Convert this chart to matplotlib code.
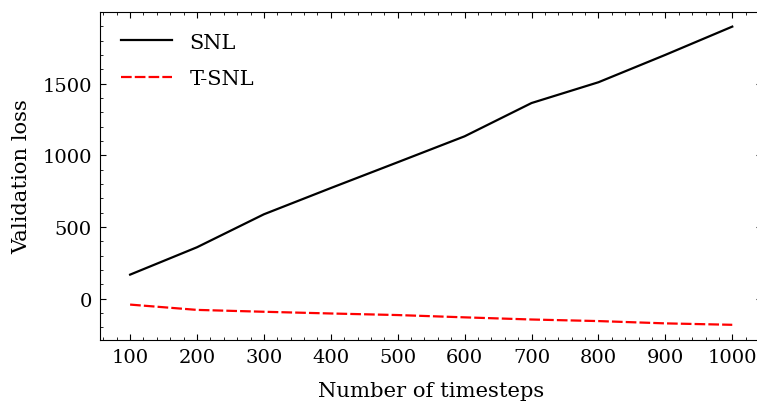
#-------------------------------------------------------------------------------
# Validation loss vs number of timesteps (SNL vs T-SNL)
#-------------------------------------------------------------------------------
import matplotlib
matplotlib.use("Agg")
import matplotlib.pyplot as plt
from matplotlib.ticker import AutoMinorLocator

#-------------------------------------------------------------------------------
# Data
#-------------------------------------------------------------------------------
timesteps = [100, 200, 300, 400, 500, 600, 700, 800, 900, 1000]
snl_loss = [167, 358, 588, 771, 951, 1132, 1364, 1509, 1700, 1897]
tsnl_loss = [-42, -79, -92, -104, -115, -131, -146, -157, -173, -183]

#-------------------------------------------------------------------------------
# Style
#-------------------------------------------------------------------------------
plt.rcParams['font.family'] = ['DejaVu Serif']
plt.rcParams['font.size'] = 14
plt.rcParams['xtick.direction'] = 'in'
plt.rcParams['ytick.direction'] = 'in'
plt.rcParams['xtick.top'] = True
plt.rcParams['ytick.right'] = True
plt.rcParams['xtick.major.size'] = 4.5
plt.rcParams['ytick.major.size'] = 4.5
plt.rcParams['xtick.minor.size'] = 2.2
plt.rcParams['ytick.minor.size'] = 2.2
plt.rcParams['xtick.major.pad'] = 6
plt.rcParams['ytick.major.pad'] = 6
plt.rcParams['xtick.minor.visible'] = True
plt.rcParams['ytick.minor.visible'] = True

#-------------------------------------------------------------------------------
# Make the Graph
#-------------------------------------------------------------------------------
fig = plt.figure(figsize=(7.57, 4.06), dpi=100)
ax = fig.add_axes([0.1321, 0.1608, 0.8750, 0.8079])

ax.plot(timesteps, snl_loss, color='black', linewidth=1.6, label='SNL')
ax.plot(timesteps, tsnl_loss, color='red', linestyle=(0, (4.8, 1.4)),
        linewidth=1.6, label='T-SNL')

ax.set_xticks(timesteps)
ax.xaxis.set_minor_locator(AutoMinorLocator(5))
ax.yaxis.set_minor_locator(AutoMinorLocator(5))
ax.set_yticks([0, 500, 1000, 1500])

ax.set_xlabel('Number of timesteps', fontsize=15.2, labelpad=11)
ax.set_ylabel('Validation loss', fontsize=15.2, labelpad=8)

ax.legend(loc='upper left', frameon=False, handlelength=2.45,
          handletextpad=0.85, labelspacing=0.85, fontsize=15,
          borderaxespad=0.6)

fig.savefig('out.png', dpi=100)
